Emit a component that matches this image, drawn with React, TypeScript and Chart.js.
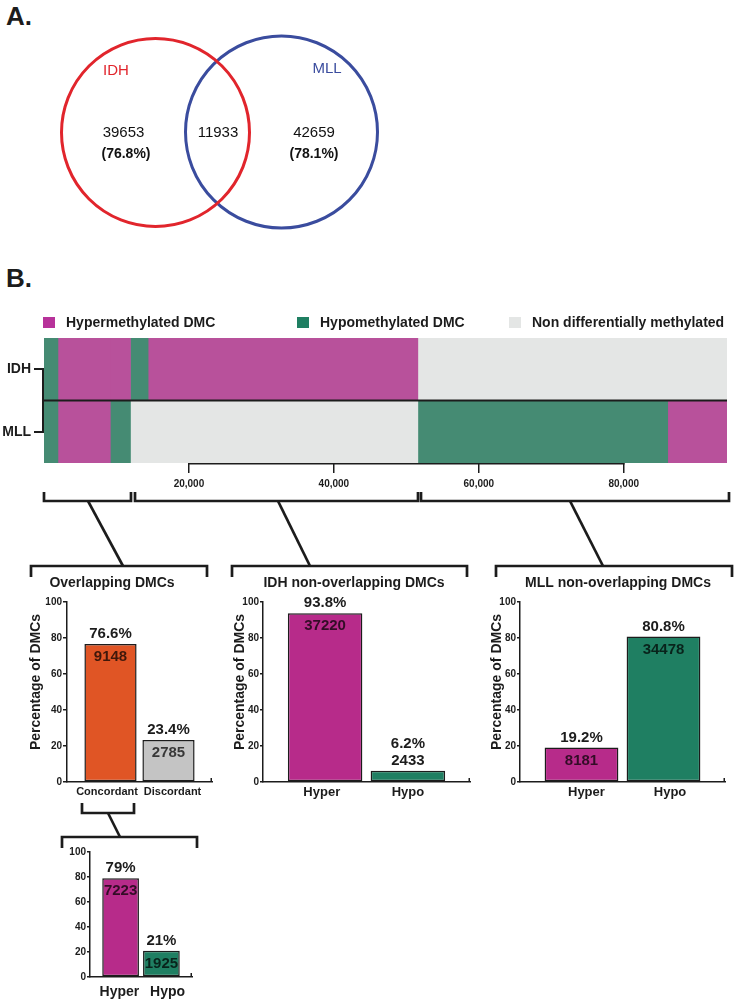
import React, { useEffect, useRef } from 'react';
import { Chart, registerables } from 'chart.js';

Chart.register(...registerables);

const FONT = "'Liberation Sans', Arial, Helvetica, sans-serif";
const INK = '#1c1c1c';

// ---------------- Data ----------------
// Venn (panel A)
const VENN_SETS = ['IDH', 'MLL'];
const VENN_ONLY = [39653, 42659];
const VENN_ONLY_PCT = ['(76.8%)', '(78.1%)'];
const VENN_OVERLAP = 11933;

// Stacked overview bar (panel B top): segments left to right
const STACK_ROWS = ['IDH', 'MLL'];
const STACK_IDH = [1925, 7223, 2785, 2433, 37220, 42659];
const STACK_MLL = [1925, 7223, 2785, 39653, 34478, 8181];
const STACK_IDH_CLASS = ['hypo', 'hyper', 'hyper', 'hypo', 'hyper', 'non'];
const STACK_MLL_CLASS = ['hypo', 'hyper', 'hypo', 'non', 'hypo', 'hyper'];
const LEGEND_KEYS = ['hyper', 'hypo', 'non'];
const LEGEND_LABELS = ['Hypermethylated DMC', 'Hypomethylated DMC', 'Non differentially methylated'];
const STACK_TICKS = [20000, 40000, 60000, 80000];

// Bar panels
const OVERLAP_CATS = ['Concordant', 'Discordant'];
const OVERLAP_PCT = [76.6, 23.4];
const OVERLAP_N = [9148, 2785];

const IDH_CATS = ['Hyper', 'Hypo'];
const IDH_PCT = [93.8, 6.2];
const IDH_N = [37220, 2433];

const MLL_CATS = ['Hyper', 'Hypo'];
const MLL_PCT = [19.2, 80.8];
const MLL_N = [8181, 34478];

const CONC_CATS = ['Hyper', 'Hypo'];
const CONC_PCT = [79, 21];
const CONC_N = [7223, 1925];

const PCT_MAX = 100;
const PCT_STEP = 20;

// ---------------- Styles ----------------
const STACK_COLORS: Record<string, string> = { hyper: '#B8519B', hypo: '#458B73', non: '#E4E6E5' };
const LEGEND_COLORS: Record<string, string> = { hyper: '#B7329A', hypo: '#1F7F62', non: '#E4E6E5' };
const BAR_HYPER = '#B72B8A';
const BAR_HYPO = '#1F7F62';
const BAR_CONC = '#E05525';
const BAR_DISC = '#C4C4C4';

// layout (page pixels)
const VENN_LAYOUT = {
  circles: [
    { x: 155.5, y: 132.5, r: 94, color: '#E1252C' },
    { x: 281.5, y: 132, r: 96, color: '#3A4C9E' },
  ],
  setLabel: [{ x: 116, y: 71 }, { x: 327, y: 69 }],
  onlyCount: [{ x: 123.5, y: 133 }, { x: 314, y: 133 }],
  onlyPct: [{ x: 126, y: 154 }, { x: 314, y: 154 }],
  overlap: { x: 218, y: 133 },
};
const LEGEND_X = [43, 297, 509];

function Venn() {
  const ref = useRef<HTMLCanvasElement>(null);
  useEffect(() => {
    const textPlugin = {
      id: 'vennText',
      afterDatasetsDraw(chart: any) {
        const { ctx, scales } = chart;
        const px = (p: { x: number; y: number }) => [scales.x.getPixelForValue(p.x), scales.y.getPixelForValue(p.y)];
        ctx.save();
        ctx.textAlign = 'center';
        ctx.textBaseline = 'middle';
        VENN_SETS.forEach((name, i) => {
          const [x, y] = px(VENN_LAYOUT.setLabel[i]);
          ctx.font = `15px ${FONT}`;
          ctx.fillStyle = VENN_LAYOUT.circles[i].color;
          ctx.fillText(name, x, y);
          const [cx, cy] = px(VENN_LAYOUT.onlyCount[i]);
          ctx.fillStyle = '#111';
          ctx.fillText(String(VENN_ONLY[i]), cx, cy);
          const [qx, qy] = px(VENN_LAYOUT.onlyPct[i]);
          ctx.font = `bold 14px ${FONT}`;
          ctx.fillText(VENN_ONLY_PCT[i], qx, qy);
        });
        const [ox, oy] = px(VENN_LAYOUT.overlap);
        ctx.font = `15px ${FONT}`;
        ctx.fillStyle = '#111';
        ctx.fillText(String(VENN_OVERLAP), ox, oy);
        ctx.restore();
      },
    };
    const chart = new Chart(ref.current as HTMLCanvasElement, {
      type: 'bubble',
      data: {
        datasets: VENN_SETS.map((name, i) => ({
          label: name,
          data: [{ x: VENN_LAYOUT.circles[i].x, y: VENN_LAYOUT.circles[i].y, r: VENN_LAYOUT.circles[i].r }],
          backgroundColor: 'rgba(0,0,0,0)',
          borderColor: VENN_LAYOUT.circles[i].color,
          borderWidth: 3,
          clip: false as any,
        })),
      },
      options: {
        responsive: false,
        animation: false,
        events: [],
        layout: { padding: 0, autoPadding: false },
        plugins: { legend: { display: false }, tooltip: { enabled: false } },
        scales: {
          x: { display: false, min: 0, max: 400 },
          y: { display: false, min: 0, max: 260, reverse: true },
        },
      },
      plugins: [textPlugin],
    } as any);
    return () => chart.destroy();
  }, []);
  return <canvas ref={ref} width={400} height={260} style={{ position: 'absolute', left: 0, top: 0, width: 400, height: 260 }} />;
}

function StackedBar() {
  const ref = useRef<HTMLCanvasElement>(null);
  useEffect(() => {
    const total = STACK_IDH.reduce((a, b) => a + b, 0);
    const deco = {
      id: 'stackDeco',
      afterDatasetsDraw(chart: any) {
        const { ctx, chartArea, scales } = chart;
        const xs = scales.x;
        const ys = scales.y;
        ctx.save();
        ctx.strokeStyle = INK;
        // divider between rows
        const y0 = ys.getPixelForValue(0);
        const y1 = ys.getPixelForValue(1);
        const mid = (y0 + y1) / 2;
        ctx.lineWidth = 2;
        ctx.beginPath();
        ctx.moveTo(ys.right - 2, mid);
        ctx.lineTo(chartArea.right, mid);
        ctx.stroke();
        // vertical connector between row ticks
        ctx.beginPath();
        ctx.moveTo(ys.right - 1, y0 - 1);
        ctx.lineTo(ys.right - 1, y1 + 1);
        ctx.stroke();
        // axis line between first and last labelled tick
        ctx.lineWidth = 1.5;
        ctx.beginPath();
        ctx.moveTo(xs.getPixelForValue(STACK_TICKS[0]) - 0.75, chartArea.bottom + 0.75);
        ctx.lineTo(xs.getPixelForValue(STACK_TICKS[STACK_TICKS.length - 1]) + 0.75, chartArea.bottom + 0.75);
        ctx.stroke();
        // legend
        ctx.font = `bold 14px ${FONT}`;
        ctx.textBaseline = 'middle';
        ctx.textAlign = 'left';
        LEGEND_KEYS.forEach((k, i) => {
          const lx = LEGEND_X[i];
          ctx.fillStyle = LEGEND_COLORS[k];
          ctx.fillRect(lx, 17, 12, 11);
          ctx.fillStyle = INK;
          ctx.fillText(LEGEND_LABELS[i], lx + 23, 23);
        });
        ctx.restore();
      },
    };
    const datasets = STACK_IDH.map((v, i) => ({
      label: `seg${i}`,
      data: [v, STACK_MLL[i]],
      backgroundColor: [STACK_COLORS[STACK_IDH_CLASS[i]], STACK_COLORS[STACK_MLL_CLASS[i]]],
      borderWidth: 0,
      barPercentage: 1,
      categoryPercentage: 1,
    }));
    const chart = new Chart(ref.current as HTMLCanvasElement, {
      type: 'bar',
      data: { labels: STACK_ROWS, datasets },
      options: {
        indexAxis: 'y',
        responsive: false,
        animation: false,
        events: [],
        layout: { padding: { top: 38, right: 9, left: 0, bottom: 0 } },
        plugins: { legend: { display: false }, tooltip: { enabled: false } },
        scales: {
          x: {
            stacked: true,
            min: 0,
            max: total,
            border: { display: false },
            afterBuildTicks: (s: any) => {
              s.ticks = STACK_TICKS.map((v) => ({ value: v }));
            },
            grid: {
              drawOnChartArea: false,
              drawTicks: true,
              tickLength: 10,
              lineWidth: 1.5,
              color: INK,
            },
            ticks: {
              maxRotation: 0,
              autoSkip: false,
              padding: 5,
              color: INK,
              font: { family: FONT, size: 10, weight: 'bold' },
              callback: (v: any) => Number(v).toLocaleString('en-US'),
            },
            afterFit: (s: any) => {
              s.height = 32;
            },
          },
          y: {
            stacked: true,
            border: { display: false },
            grid: { offset: false, drawOnChartArea: false, drawTicks: true, tickLength: 10, lineWidth: 2, color: INK },
            ticks: { padding: 3, color: INK, font: { family: FONT, size: 14, weight: 'bold' } },
            afterFit: (s: any) => {
              s.width = 44;
            },
          },
        },
      },
      plugins: [deco],
    } as any);
    return () => chart.destroy();
  }, []);
  return <canvas ref={ref} width={736} height={195} style={{ position: 'absolute', left: 0, top: 300, width: 736, height: 195 }} />;
}

type PanelProps = {
  left: number;
  top: number;
  width: number;
  height: number;
  padTop: number;
  yAxisW: number;
  padRight: number;
  xAxisH: number;
  cats: string[];
  pct: number[];
  counts: number[];
  colors: string[];
  labelShift: number[];
  title?: string;
  titleX?: number;
  titleY?: number;
  yTitle?: string;
  yTitleX?: number;
  yTitleY?: number;
  tickLen: number;
  xFont: number;
  xPad: number;
};

function BarPanel(p: PanelProps) {
  const ref = useRef<HTMLCanvasElement>(null);
  useEffect(() => {
    const deco = {
      id: 'panelDeco',
      afterDatasetsDraw(chart: any) {
        const { ctx, chartArea } = chart;
        const meta = chart.getDatasetMeta(0);
        ctx.save();
        ctx.textAlign = 'center';
        ctx.textBaseline = 'middle';
        ctx.font = `bold 15px ${FONT}`;
        meta.data.forEach((bar: any, i: number) => {
          const top = bar.y;
          const h = bar.base - bar.y;
          const pctTxt = `${p.pct[i]}%`;
          const nTxt = String(p.counts[i]);
          if (h > 20) {
            ctx.fillStyle = INK;
            ctx.fillText(pctTxt, bar.x, top - 10);
            ctx.fillStyle = 'rgba(0,0,0,0.72)';
            ctx.fillText(nTxt, bar.x, top + 13);
          } else {
            ctx.fillStyle = INK;
            ctx.fillText(nTxt, bar.x, top - 10);
            ctx.fillText(pctTxt, bar.x, top - 27);
          }
        });
        // small end tick on the x axis
        ctx.strokeStyle = INK;
        ctx.lineWidth = 1.5;
        ctx.beginPath();
        ctx.moveTo(chartArea.right - 0.75, chartArea.bottom);
        ctx.lineTo(chartArea.right - 0.75, chartArea.bottom - 4);
        ctx.stroke();
        ctx.fillStyle = INK;
        ctx.font = `bold 14px ${FONT}`;
        if (p.title) ctx.fillText(p.title, p.titleX, p.titleY);
        if (p.yTitle) {
          ctx.translate(p.yTitleX, p.yTitleY);
          ctx.rotate(-Math.PI / 2);
          ctx.fillText(p.yTitle, 0, 0);
        }
        ctx.restore();
      },
    };
    const chart = new Chart(ref.current as HTMLCanvasElement, {
      type: 'bar',
      data: {
        datasets: [
          {
            data: p.cats.map((c, i) => ({ x: i + 1, y: p.pct[i] })),
            backgroundColor: p.colors,
            borderColor: INK,
            borderWidth: 1.5,
            borderSkipped: false,
            barPercentage: 0.9,
            categoryPercentage: 1,
          },
        ],
      },
      options: {
        responsive: false,
        animation: false,
        events: [],
        layout: { padding: { top: p.padTop, right: p.padRight, left: 0, bottom: 0 } },
        plugins: { legend: { display: false }, tooltip: { enabled: false }, title: { display: false } },
        scales: {
          x: {
            type: 'linear',
            offset: false,
            min: 0.25,
            max: p.cats.length + 0.75,
            afterBuildTicks: (s: any) => {
              s.ticks = p.cats.map((_, i) => ({ value: i + 1 + p.labelShift[i], label: p.cats[i] }));
            },
            ticks: {
              autoSkip: false,
              maxRotation: 0,
              padding: p.xPad,
              color: INK,
              font: { family: FONT, size: p.xFont, weight: 'bold' },
              callback: (_v: any, i: number) => p.cats[i],
            },
            grid: { display: false, drawTicks: false },
            border: { display: true, color: INK, width: 1.5 },
            afterFit: (s: any) => {
              s.height = p.xAxisH;
            },
          },
          y: {
            min: 0,
            max: PCT_MAX,
            ticks: { stepSize: PCT_STEP, padding: 1, color: INK, font: { family: FONT, size: 10, weight: 'bold' } },
            grid: { drawOnChartArea: false, drawTicks: true, tickLength: p.tickLen, color: INK, lineWidth: 1.5 },
            border: { display: true, color: INK, width: 1.5 },
            afterFit: (s: any) => {
              s.width = p.yAxisW;
            },
          },
        },
      },
      plugins: [deco],
    } as any);
    return () => chart.destroy();
  }, []);
  return (
    <canvas
      ref={ref}
      width={p.width}
      height={p.height}
      style={{ position: 'absolute', left: p.left, top: p.top, width: p.width, height: p.height }}
    />
  );
}

const BRACKET_PATHS = [
  'M44,492 V501 H131 V492',
  'M135,492 V501 H418 V492',
  'M421,492 V501 H729 V492',
  'M88,501 L123,566',
  'M278,501 L310,566',
  'M570,501 L603,566',
  'M31,577 V566 H207 V577',
  'M232,577 V566 H467 V577',
  'M496,577 V566 H732 V577',
  'M82,803 V813 H134 V803',
  'M108,813 L120,837',
  'M62,848 V837 H197 V848',
];

export default function App() {
  const panelLabel: React.CSSProperties = {
    position: 'absolute',
    left: 6,
    fontFamily: FONT,
    fontWeight: 'bold',
    fontSize: 26,
    lineHeight: '26px',
    color: INK,
  };
  return (
    <div style={{ position: 'absolute', left: 0, top: 0, width: 736, height: 1003, overflow: 'hidden', background: '#fff' }}>
      <div style={{ ...panelLabel, top: 3 }}>A.</div>
      <div style={{ ...panelLabel, top: 265 }}>B.</div>
      <Venn />
      <StackedBar />
      <BarPanel
        left={0} top={570} width={225} height={230}
        padTop={32} yAxisW={67} padRight={13} xAxisH={18}
        cats={OVERLAP_CATS} pct={OVERLAP_PCT} counts={OVERLAP_N} colors={[BAR_CONC, BAR_DISC]}
        labelShift={[-0.06, 0.07]}
        title="Overlapping DMCs" titleX={112} titleY={13}
        yTitle="Percentage of DMCs" yTitleX={36} yTitleY={112}
        tickLen={4} xFont={11} xPad={3}
      />
      <BarPanel
        left={225} top={570} width={260} height={230}
        padTop={32} yAxisW={38} padRight={15} xAxisH={18}
        cats={IDH_CATS} pct={IDH_PCT} counts={IDH_N} colors={[BAR_HYPER, BAR_HYPO]}
        labelShift={[-0.04, 0]}
        title="IDH non-overlapping DMCs" titleX={129} titleY={13}
        yTitle="Percentage of DMCs" yTitleX={15} yTitleY={112}
        tickLen={3} xFont={13} xPad={3}
      />
      <BarPanel
        left={480} top={570} width={256} height={230}
        padTop={32} yAxisW={40} padRight={11} xAxisH={18}
        cats={MLL_CATS} pct={MLL_PCT} counts={MLL_N} colors={[BAR_HYPER, BAR_HYPO]}
        labelShift={[0.06, 0.08]}
        title="MLL non-overlapping DMCs" titleX={138} titleY={13}
        yTitle="Percentage of DMCs" yTitleX={17} yTitleY={112}
        tickLen={3} xFont={13} xPad={3}
      />
      <BarPanel
        left={40} top={840} width={180} height={163}
        padTop={12} yAxisW={50} padRight={28} xAxisH={26}
        cats={CONC_CATS} pct={CONC_PCT} counts={CONC_N} colors={[BAR_HYPER, BAR_HYPO]}
        labelShift={[-0.03, 0.15]}
        tickLen={3} xFont={14} xPad={7}
      />
      <svg width={736} height={1003} style={{ position: 'absolute', left: 0, top: 0, pointerEvents: 'none' }}>
        {BRACKET_PATHS.map((d, i) => (
          <path key={i} d={d} fill="none" stroke={INK} strokeWidth={2.7} strokeLinejoin="miter" />
        ))}
      </svg>
    </div>
  );
}
